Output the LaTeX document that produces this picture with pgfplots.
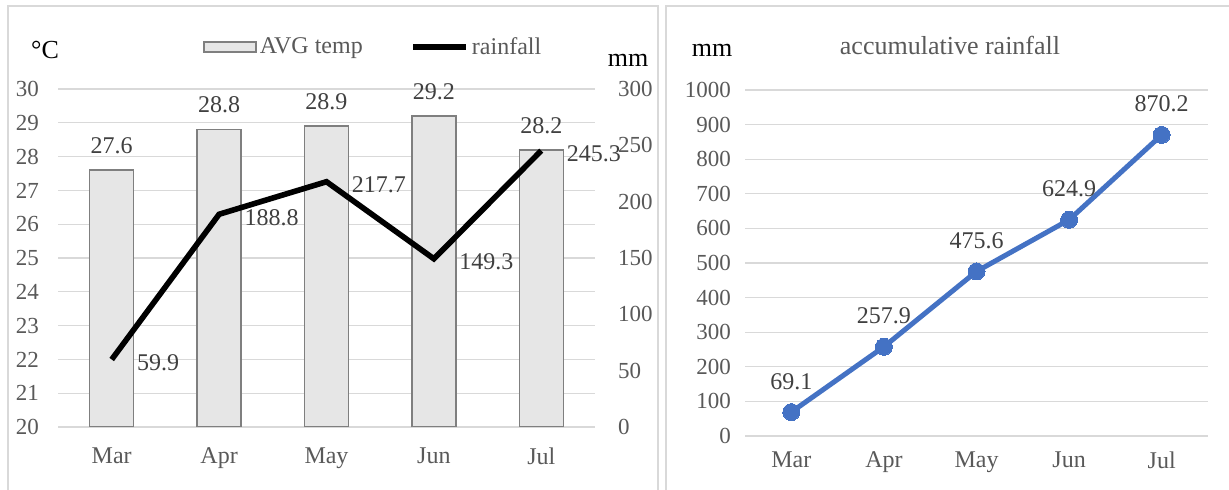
\documentclass[border=0pt]{standalone}
\usepackage{pgfplots}
\pgfplotsset{compat=1.18}
\usepackage{fontspec}
\setmainfont{Liberation Serif}

\definecolor{gridgray}{HTML}{D9D9D9}
\definecolor{ticklbl}{HTML}{595959}
\definecolor{datalbl}{HTML}{404040}
\definecolor{barfill}{HTML}{E6E6E6}
\definecolor{baredge}{HTML}{7F7F7F}
\definecolor{lineblue}{HTML}{4472C4}

\pgfplotsset{
  panel/.style={
    scale only axis,
    anchor=south west,
    /pgf/number format/assume math mode=true,
    /pgf/number format/1000 sep={},
    scaled ticks=false,
    axis line style={draw=none},
    tick style={draw=none},
    xmin=-0.5, xmax=4.5,
    grid style={gridgray, line width=0.6pt},
    yticklabel style={font=\fontsize{11.5}{13}\selectfont, text=ticklbl},
    xticklabel style={font=\fontsize{12}{14}\selectfont, text=ticklbl},
  },
  monthticks/.style={xtick={0,...,4}, xticklabels={Mar,Apr,May,Jun,Jul}},
}

\begin{document}
\begin{tikzpicture}
\useasboundingbox (0,0) rectangle (614.5pt,245pt);
% panel frames
\draw[gridgray, line width=0.75pt] (4pt,-5pt) rectangle (329pt,242pt);
\draw[gridgray, line width=0.75pt] (333pt,-5pt) rectangle (620pt,242pt);

% ---- left panel: average temperature (bars, left axis) ----
\begin{axis}[panel, monthticks,
  at={(29pt,31.5pt)}, width=268.5pt, height=169pt,
  ymin=20, ymax=30, ytick={20,...,30}, ymajorgrids,
  yticklabel style={xshift=-6pt},
  xticklabel style={yshift=-7pt},
  legend style={at={(axis description cs:0.270,1.124)}, anchor=west,
    draw=none, fill=none, inner sep=0pt, legend columns=2,
    font=\fontsize{12}{14}\selectfont, text=ticklbl,
    /tikz/every even column/.append style={column sep=22.5pt},
    nodes={inner sep=1.5pt}},
  legend cell align=left,
]
\addplot[ybar, bar width=22pt, fill=barfill, draw=baredge, line width=0.75pt,
  nodes near coords,
  nodes near coords style={font=\fontsize{12}{14}\selectfont, text=datalbl, yshift=4.5pt},
  forget plot]
  coordinates {(0,27.6) (1,28.8) (2,28.9) (3,29.2) (4,28.2)};
\addlegendimage{legend image code/.code={%
  \draw[fill=barfill, draw=baredge, line width=0.75pt] (0pt,-2.5pt) rectangle (26pt,2.5pt);}}
\addlegendentry{AVG temp}
\addlegendimage{legend image code/.code={%
  \draw[black, line width=2.6pt] (0pt,0pt) -- (26.5pt,0pt);}}
\addlegendentry{rainfall}
\end{axis}

% ---- left panel: monthly rainfall (line, right axis) ----
\begin{axis}[panel,
  at={(29pt,31.5pt)}, width=268.5pt, height=169pt,
  ymin=0, ymax=300, ytick={0,50,...,300},
  xtick=\empty,
  yticklabel pos=right,
  yticklabel style={anchor=west, xshift=8pt},
]
\addplot[black, line width=2.8pt,
  nodes near coords,
  nodes near coords style={font=\fontsize{12}{14}\selectfont, text=datalbl,
    anchor=west, xshift=8pt, yshift=-1.5pt}]
  coordinates {(0,59.9) (1,188.8) (2,217.7) (3,149.3) (4,245.3)};
\end{axis}

\node[font=\fontsize{13}{15}\selectfont] at (22.5pt,220pt) {°C};
\node[font=\fontsize{13}{15}\selectfont] at (314pt,215pt) {mm};

% ---- right panel: accumulative rainfall ----
\begin{axis}[panel, monthticks,
  at={(372.5pt,27pt)}, width=231.5pt, height=173pt,
  ymin=0, ymax=1000, ytick={0,100,...,1000}, ymajorgrids,
  yticklabel style={xshift=-3.5pt},
  xticklabel style={yshift=-4.5pt},
]
\addplot[lineblue, line width=2.5pt, mark=*, mark size=4.25pt,
  mark options={fill=lineblue, draw=lineblue, line width=0pt},
  nodes near coords,
  nodes near coords style={font=\fontsize{12}{14}\selectfont, text=datalbl,
    anchor=south, yshift=8pt}]
  coordinates {(0,69.1) (1,257.9) (2,475.6) (3,624.9) (4,870.2)};
\end{axis}

\node[font=\fontsize{13}{15}\selectfont] at (356pt,220pt) {mm};
\node[font=\fontsize{13}{15}\selectfont, text=ticklbl] at (475pt,222.5pt) {accumulative rainfall};
\end{tikzpicture}
\end{document}
